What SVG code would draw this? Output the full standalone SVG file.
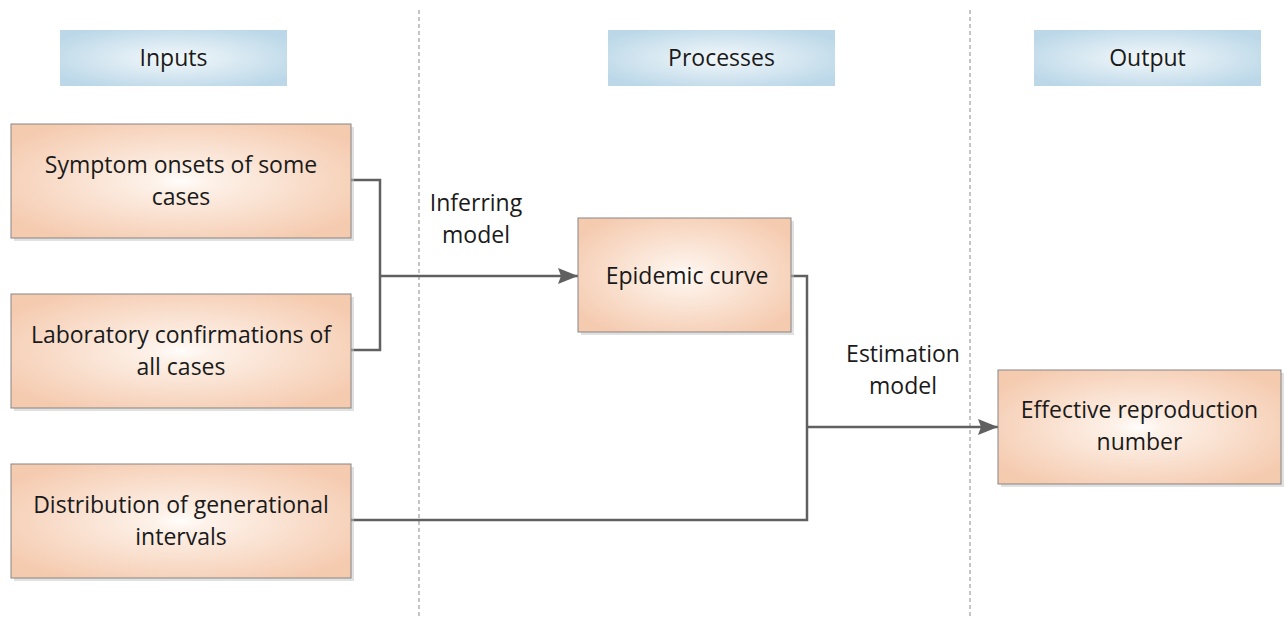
<svg xmlns="http://www.w3.org/2000/svg" width="1286" height="619" viewBox="0 0 1286 619">
<style>
.t{font-family:"Open Sans","Liberation Sans",sans-serif;font-size:23px;fill:#1a1a1a;text-anchor:middle}
.box{fill:url(#peach);stroke:#858585;stroke-width:1}
.hdr{fill:url(#blue)}
.sh{fill:#c4c4c4;opacity:0.5}
.c{fill:none;stroke:#606060;stroke-width:2.5}
.d{stroke:#8a8a8a;stroke-width:1;stroke-dasharray:4,3}
</style>
<defs>
<radialGradient id="peach" cx="0.5" cy="0.5" r="0.6">
<stop offset="0" stop-color="#fffdfb"/>
<stop offset="0.15" stop-color="#fdf1e8"/>
<stop offset="1" stop-color="#f5cbb0"/>
</radialGradient>
<radialGradient id="blue" cx="0.5" cy="0.5" r="0.6">
<stop offset="0" stop-color="#f3f8fb"/>
<stop offset="1" stop-color="#bcd8e8"/>
</radialGradient>
<marker id="arrL" viewBox="0 0 20 16" refX="20" refY="8" markerWidth="20" markerHeight="16" markerUnits="userSpaceOnUse" orient="auto">
<path d="M0,0 L20,8 L0,16 L3,8 z" fill="#606060"/>
</marker>
</defs>
<g id="dividers">
<line class="d" x1="419" y1="10" x2="419" y2="616"/>
<line class="d" x1="970" y1="10" x2="970" y2="616"/>
</g>
<g id="h-inputs"><rect class="hdr" x="60" y="30" width="227" height="56"/><text class="t" x="173.5" y="66">Inputs</text></g>
<g id="h-processes"><rect class="hdr" x="608" y="30" width="227" height="56"/><text class="t" x="721.5" y="66">Processes</text></g>
<g id="h-output"><rect class="hdr" x="1034" y="30" width="227" height="56"/><text class="t" x="1147.5" y="66">Output</text></g>
<g id="connectors">
<polyline class="c" points="351,180 380,180 380,350 351,350"/>
<line class="c" x1="380" y1="276" x2="578" y2="276" marker-end="url(#arrL)"/>
<polyline class="c" points="791,276 807,276 807,520 351,520"/>
<line class="c" x1="807" y1="427" x2="998" y2="427" marker-end="url(#arrL)"/>
<text class="t" x="476" y="211">Inferring</text>
<text class="t" x="476" y="243">model</text>
<text class="t" x="903" y="362">Estimation</text>
<text class="t" x="903" y="394">model</text>
</g>
<g id="n-symptom"><rect class="sh" x="14" y="127" width="340" height="114"/><rect class="box" x="11" y="124" width="340" height="114"/><text class="t" x="181" y="173">Symptom onsets of some</text><text class="t" x="181" y="205">cases</text></g>
<g id="n-lab"><rect class="sh" x="14" y="297" width="340" height="114"/><rect class="box" x="11" y="294" width="340" height="114"/><text class="t" x="181" y="343">Laboratory confirmations of</text><text class="t" x="181" y="375">all cases</text></g>
<g id="n-dist"><rect class="sh" x="14" y="467" width="340" height="114"/><rect class="box" x="11" y="464" width="340" height="114"/><text class="t" x="181" y="513">Distribution of generational</text><text class="t" x="181" y="545">intervals</text></g>
<g id="n-epi"><rect class="sh" x="581" y="221" width="213" height="114"/><rect class="box" x="578" y="218" width="213" height="114"/><text class="t" x="687" y="284">Epidemic curve</text></g>
<g id="n-rt"><rect class="sh" x="1001" y="373" width="283" height="114"/><rect class="box" x="998" y="370" width="283" height="114"/><text class="t" x="1139.5" y="418">Effective reproduction</text><text class="t" x="1139.5" y="450">number</text></g>
</svg>
